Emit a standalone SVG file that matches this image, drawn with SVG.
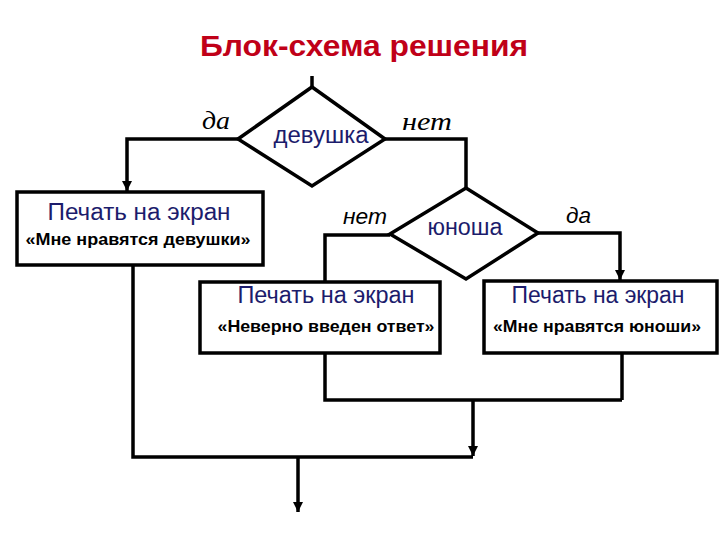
<svg xmlns="http://www.w3.org/2000/svg" width="720" height="540" viewBox="0 0 720 540">
<style>
.box{fill:#fff;stroke:#000;stroke-width:3.5}
.ln{fill:none;stroke:#000;stroke-width:3.5}
.t1{font-family:"Liberation Sans",Arial,sans-serif;font-size:23px;fill:#1c1c6c;text-anchor:middle}
.t2{font-family:"Liberation Sans",Arial,sans-serif;font-size:16px;font-weight:bold;fill:#000;text-anchor:middle}
.lbs{font-family:"Liberation Serif","Times New Roman",serif;font-style:italic;font-size:26px;fill:#000}
.lba{font-family:"Liberation Sans",Arial,sans-serif;font-style:italic;font-size:22px;fill:#000}
</style>
<defs>
<marker id="ar" viewBox="0 0 10 10" refX="10" refY="5" markerWidth="3" markerHeight="3" orient="auto" markerUnits="strokeWidth">
<path d="M0,0 L10,5 L0,10 z" fill="#000"/>
</marker>
</defs>
<rect width="720" height="540" fill="#fff"/>
<text x="364" y="56" font-family="Liberation Sans,Arial,sans-serif" font-size="30" font-weight="bold" fill="#c00018" text-anchor="middle" textLength="328" lengthAdjust="spacingAndGlyphs">Блок-схема решения</text>

<g id="connectors">
<line class="ln" x1="312" y1="76" x2="312" y2="88"/>
<polyline class="ln" points="238,139 127,139 127,191" marker-end="url(#ar)"/>
<polyline class="ln" points="385,139 466,139 466,189"/>
<polyline class="ln" points="390,235 325,235 325,283"/>
<polyline class="ln" points="538,233 620,233 620,280" marker-end="url(#ar)"/>
<polyline class="ln" points="133,265 133,457 473,457"/>
<polyline class="ln" points="325,353 325,400 622,400"/>
<line class="ln" x1="622" y1="353" x2="622" y2="400"/>
<line class="ln" x1="473" y1="400" x2="473" y2="456" marker-end="url(#ar)"/>
<line class="ln" x1="298" y1="457" x2="298" y2="512" marker-end="url(#ar)"/>
</g>

<g id="girl">
<polygon class="box" points="312,87 385,139 312,186 238,139"/>
<text class="t1" x="321" y="143" textLength="95" lengthAdjust="spacingAndGlyphs">девушка</text>
</g>
<g id="boy">
<polygon class="box" points="466,188 538,233 466,279 390,234"/>
<text class="t1" x="465" y="235" textLength="75" lengthAdjust="spacingAndGlyphs">юноша</text>
</g>

<g id="print-girls">
<rect class="box" x="17" y="192" width="246" height="73"/>
<text class="t1" x="139" y="220" textLength="183" lengthAdjust="spacingAndGlyphs">Печать на экран</text>
<text class="t2" x="138" y="245" textLength="225" lengthAdjust="spacingAndGlyphs">«Мне нравятся девушки»</text>
</g>
<g id="print-wrong">
<rect class="box" x="200" y="282" width="240" height="71"/>
<text class="t1" x="326" y="303" textLength="177" lengthAdjust="spacingAndGlyphs">Печать на экран</text>
<text class="t2" x="326" y="332" textLength="217" lengthAdjust="spacingAndGlyphs">«Неверно введен ответ»</text>
</g>
<g id="print-boys">
<rect class="box" x="484" y="281" width="233" height="72"/>
<text class="t1" x="598" y="303" textLength="173" lengthAdjust="spacingAndGlyphs">Печать на экран</text>
<text class="t2" x="597" y="332" textLength="208" lengthAdjust="spacingAndGlyphs">«Мне нравятся юноши»</text>
</g>

<g id="labels">
<text class="lbs" x="202" y="129" textLength="28" lengthAdjust="spacingAndGlyphs">да</text>
<text class="lbs" x="402" y="130" textLength="50" lengthAdjust="spacingAndGlyphs">нет</text>
<text class="lba" x="343" y="224" textLength="44" lengthAdjust="spacingAndGlyphs">нет</text>
<text class="lba" x="566" y="223" textLength="25" lengthAdjust="spacingAndGlyphs">да</text>
</g>
</svg>
